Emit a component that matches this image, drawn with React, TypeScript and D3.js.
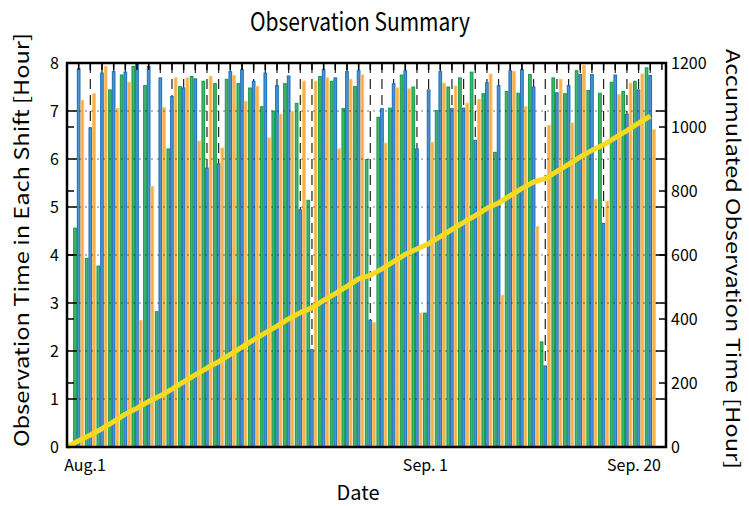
import React from "react";
import * as d3 from "d3";

// Observation hours per shift for each day (day 1..50)
const greenShift = [
  4.57, 3.94, 3.78, 7.45, 7.76, 7.94, 7.54, 2.83, 6.22, 7.52,
  7.73, 7.63, 7.58, 7.67, 7.58, 7.49, 7.1, 7.01, 7.58, 7.17,
  5.15, 7.73, 7.63, 7.06, 7.52, 6.0, 6.88, 7.07, 7.76, 7.51,
  2.8, 7.02, 7.51, 7.7, 7.82, 7.37, 6.15, 7.42, 7.38, 7.77,
  2.2, 7.7, 7.37, 7.85, 7.44, 7.38, 7.61, 7.42, 7.63, 7.91,
];
const blueShift = [
  7.89, 6.66, 7.8, 7.83, 7.82, 8.0, 7.94, 7.7, 7.31, 7.49,
  7.68, 5.82, 5.91, 7.83, 7.87, 7.63, 7.8, 7.54, 7.74, 4.95,
  2.04, 7.87, 7.7, 7.83, 7.85, 2.65, 7.06, 7.58, 7.85, 6.22,
  7.45, 7.83, 7.06, 7.07, 6.4, 7.6, 7.54, 7.85, 7.87, 7.51,
  1.7, 7.39, 7.54, 7.77, 7.77, 4.67, 7.76, 6.94, 7.45, 7.75,
];
const orangeShift = [
  7.23, 7.37, 7.94, 7.06, 7.61, 2.65, 5.44, 7.08, 7.7, 7.7,
  6.38, 7.73, 6.24, 7.75, 7.21, 7.52, 6.45, 6.94, 7.0, 7.63,
  7.63, 7.7, 6.22, 7.67, 7.76, 2.6, 6.34, 7.49, 7.47, 2.8,
  6.36, 7.59, 7.53, 7.17, 7.25, 7.78, 3.17, 7.83, 7.1, 4.6,
  6.71, 7.67, 6.76, 7.96, 5.17, 5.13, 7.35, 7.59, 7.78, 6.62,
];

const leftTicks = [0, 1, 2, 3, 4, 5, 6, 7, 8];
const rightTicks = [0, 200, 400, 600, 800, 1000, 1200];
const dateLabels = ["Aug.1", "Sep. 1", "Sep. 20"];
const dateLabelDays = [0, 31, 50];

const W = 749;
const H = 506;
const L = 67, R = 666, T = 63, B = 447;
const FONT = "'Noto Sans CJK JP', 'Noto Sans', sans-serif";

const COLORS = [
  { fill: "#46b46c", stroke: "#0f9a48" },
  { fill: "#4a94d6", stroke: "#1b6db6" },
  { fill: "#f8ad46", stroke: "#fcc36c" },
];

export default function App() {
  const days = d3.range(1, greenShift.length + 1);
  const x = d3.scaleLinear().domain([0, 51.35]).range([L, R]);
  const y = d3.scaleLinear().domain([0, 8]).range([B, T]);
  const y2 = d3.scaleLinear().domain([0, 1200]).range([B, T]);
  const labelX = d3.scaleLinear().domain([0, 50]).range([85, 634]);

  const step = x(1) - x(0);
  const bw = step * 0.315;
  const series = [greenShift, blueShift, orangeShift];

  const totals = days.map((_, i) => greenShift[i] + blueShift[i] + orangeShift[i]);
  const cum = [0, ...Array.from(d3.cumsum(totals))];
  const line = d3
    .line<number>()
    .x((_, i) => x(i))
    .y((d) => y2(d));

  const topTicks = d3.range(0, 52);

  return (
    <svg
      width={W}
      height={H}
      style={{ position: "absolute", left: 0, top: 0, background: "#fff" }}
      fontFamily={FONT}
    >
      {/* vertical dashed day lines (behind bars) */}
      {days.map((d) => (
        <line
          key={"vd" + d}
          x1={x(d)}
          x2={x(d)}
          y1={T}
          y2={B}
          stroke="#222"
          strokeWidth={1.2}
          strokeDasharray="10,6"
        />
      ))}

      {/* bars */}
      {series.map((vals, s) =>
        vals.map((v, i) => {
          const d = days[i];
          const x0 = x(d) - 1.5 * bw + s * bw;
          const h = B - y(v);
          if (v <= 0) return null;
          return (
            <rect
              key={`b${s}-${i}`}
              x={x0 + 0.5}
              y={y(v) + 0.5}
              width={bw - 1}
              height={Math.max(0, h - 0.5)}
              fill={COLORS[s].fill}
              stroke={COLORS[s].stroke}
              strokeWidth={1}
            />
          );
        })
      )}

      {/* horizontal dotted grid */}
      {leftTicks.slice(1, -1).map((t) => (
        <line
          key={"hg" + t}
          x1={L}
          x2={R}
          y1={y(t)}
          y2={y(t)}
          stroke="#222"
          strokeOpacity={0.6}
          strokeWidth={1}
          strokeDasharray="2,4"
        />
      ))}

      {/* accumulated line */}
      <path
        d={line(cum) || ""}
        fill="none"
        stroke="#fada1e"
        strokeWidth={5}
        strokeLinejoin="round"
      />

      {/* left axis ticks (major) on both sides */}
      {leftTicks.map((t) => (
        <g key={"lt" + t}>
          <line x1={L} x2={L + 10} y1={y(t)} y2={y(t)} stroke="#000" strokeWidth={1.5} />
          <line x1={R} x2={R - 10} y1={y(t)} y2={y(t)} stroke="#000" strokeWidth={1.5} />
          <text x={L - 8} y={y(t)} dy="0.35em" textAnchor="end" fontSize={16}>
            {t}
          </text>
        </g>
      ))}
      {/* right axis ticks on both sides */}
      {rightTicks.map((t) => (
        <g key={"rt" + t}>
          <line x1={R} x2={R - 7} y1={y2(t)} y2={y2(t)} stroke="#000" strokeWidth={1.5} />
          <line x1={L} x2={L + 7} y1={y2(t)} y2={y2(t)} stroke="#000" strokeWidth={1.5} />
          <text x={R + 5} y={y2(t)} dy="0.35em" textAnchor="start" fontSize={16}>
            {t}
          </text>
        </g>
      ))}
      {/* top day ticks */}
      {topTicks.map((k) => (
        <line key={"tt" + k} x1={x(k)} x2={x(k)} y1={T} y2={T + 7} stroke="#000" strokeWidth={1.5} />
      ))}

      {/* frame */}
      <rect x={L} y={T} width={R - L} height={B - T} fill="none" stroke="#000" strokeWidth={2.5} />

      {/* date labels */}
      {dateLabels.map((lab, i) => (
        <text key={lab} x={labelX(dateLabelDays[i])} y={471} textAnchor="middle" fontSize={16}>
          {lab}
        </text>
      ))}

      {/* titles */}
      <text
        x={360}
        y={31}
        textAnchor="middle"
        fontSize={25}
        textLength={220}
        lengthAdjust="spacingAndGlyphs"
      >
        Observation Summary
      </text>
      <text x={358} y={500} textAnchor="middle" fontSize={20}>
        Date
      </text>
      <text
        transform={`translate(29, ${(T + B) / 2 - 15}) rotate(-90)`}
        textAnchor="middle"
        fontSize={20}
        textLength={414}
        lengthAdjust="spacingAndGlyphs"
      >
        Observation Time in Each Shift [Hour]
      </text>
      <text
        transform={`translate(726, ${(T + B) / 2 + 4}) rotate(90)`}
        textAnchor="middle"
        fontSize={19}
        textLength={420}
        lengthAdjust="spacingAndGlyphs"
      >
        Accumulated Observation Time [Hour]
      </text>
    </svg>
  );
}
